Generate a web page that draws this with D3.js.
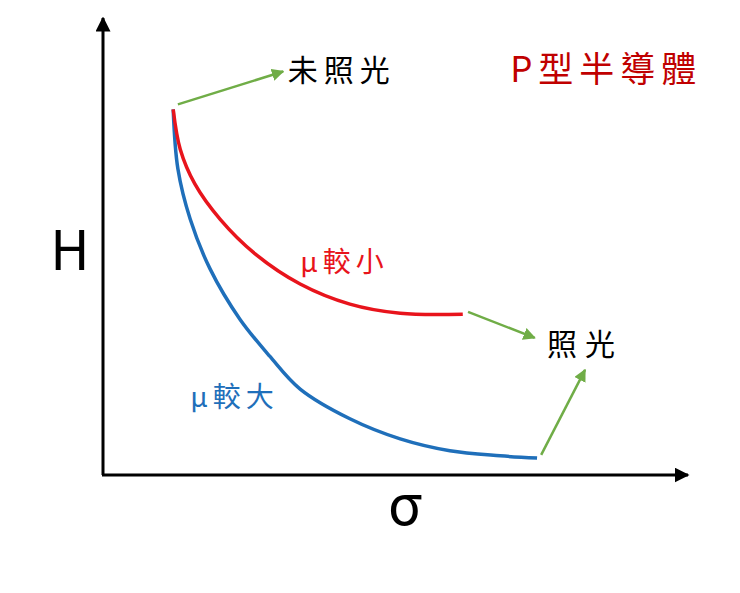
<!DOCTYPE html><html><head><meta charset="utf-8"><script src="https://cdn.jsdelivr.net/npm/d3@7"></script>
<style>body{margin:0;background:#fff}text{font-family:"Noto Sans CJK TC","Noto Sans",sans-serif}</style></head><body>
<svg id="c" width="740" height="593"></svg>
<script>
const redCurve=[[12,80],[13.2,71.3],[15.7,63.7],[20,56],[26,48.4],[33.7,41.8],[42.2,37.4],[50.8,35.4],[61.5,35.2]];
const blueCurve=[[12,80],[12.8,67],[14.9,56],[18.3,45.1],[23.4,34.1],[28.5,26],[33.7,18.8],[42.2,12.3],[50.8,7.9],[59.3,5.3],[67.9,4.2],[74.2,3.7]];
const arrows=[[[12.8,81.1],[30.8,88.3]],[[62.4,35.7],[73.8,30]],[[74.9,4.4],[82.4,23]]];
const labels=[{t:"未照光",x:31.6,y:88,c:"#000",s:30,ls:6},{t:"照光",x:75.9,y:28,c:"#000",s:30,ls:8},{t:"P型半導體",x:69.6,y:88,c:"#c00000",s:35,ls:6},{t:"μ較小",x:33.7,y:46,c:"#e8141c",s:28,ls:5},{t:"μ較大",x:14.9,y:16.5,c:"#1f6fba",s:28,ls:5}];
const svg=d3.select("#c");
const x=d3.scaleLinear().domain([0,100]).range([103,688]);
const y=d3.scaleLinear().domain([0,100]).range([475,18]);
svg.append("defs").html('<marker id="ax" viewBox="0 0 10 10" refX="9" refY="5" markerWidth="5" markerHeight="5" orient="auto"><path d="M0,0L10,5L0,10z" fill="#000"/></marker><marker id="ga" viewBox="0 0 10 10" refX="9" refY="5" markerWidth="5" markerHeight="5" orient="auto"><path d="M0,0L10,5L0,10z" fill="#70ad47"/></marker>');
svg.append("line").attr("x1",x(0)).attr("y1",y(0)).attr("x2",x(0)).attr("y2",y(100)).attr("stroke","#000").attr("stroke-width",3).attr("marker-end","url(#ax)");
svg.append("line").attr("x1",x(0)-1).attr("y1",y(0)).attr("x2",x(100)).attr("y2",y(0)).attr("stroke","#000").attr("stroke-width",3).attr("marker-end","url(#ax)");
const line=d3.line().x(d=>x(d[0])).y(d=>y(d[1])).curve(d3.curveCatmullRom);
svg.append("path").attr("d",line(blueCurve)).attr("fill","none").attr("stroke","#1f6fba").attr("stroke-width",3.5);
svg.append("path").attr("d",line(redCurve)).attr("fill","none").attr("stroke","#e8141c").attr("stroke-width",3.5);
arrows.forEach(a=>svg.append("line").attr("x1",x(a[0][0])).attr("y1",y(a[0][1])).attr("x2",x(a[1][0])).attr("y2",y(a[1][1])).attr("stroke","#70ad47").attr("stroke-width",2.5).attr("marker-end","url(#ga)"));
labels.forEach(l=>svg.append("text").attr("x",x(l.x)).attr("y",y(l.y)).attr("fill",l.c).attr("font-size",l.s).attr("letter-spacing",l.ls).attr("dominant-baseline","middle").text(l.t));
svg.append("text").attr("x",70).attr("y",255).attr("font-size",54).attr("text-anchor","middle").attr("dominant-baseline","middle").attr("font-family","Liberation Sans").text("H");
svg.append("text").attr("x",405).attr("y",510).attr("font-size",56).attr("text-anchor","middle").attr("dominant-baseline","middle").attr("font-family","Liberation Sans").text("σ");
</script></body></html>
